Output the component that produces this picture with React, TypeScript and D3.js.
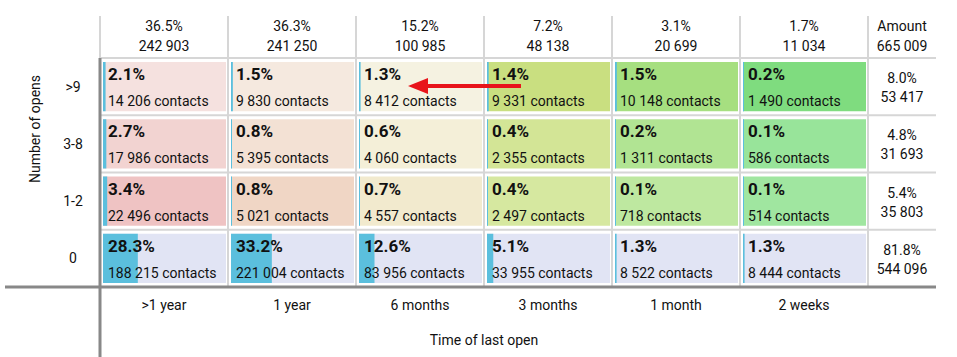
import React from "react";
import * as d3 from "d3";

const columns = [">1 year", "1 year", "6 months", "3 months", "1 month", "2 weeks"];
const rows = [">9", "3-8", "1-2", "0"];
const colPercents = ["36.5%", "36.3%", "15.2%", "7.2%", "3.1%", "1.7%"];
const colCounts = ["242 903", "241 250", "100 985", "48 138", "20 699", "11 034"];
const totalLabel = "Amount";
const totalCount = "665 009";
const rowPercents = ["8.0%", "4.8%", "5.4%", "81.8%"];
const rowCounts = ["53 417", "31 693", "35 803", "544 096"];
const cellPercents = [
  [2.1, 1.5, 1.3, 1.4, 1.5, 0.2],
  [2.7, 0.8, 0.6, 0.4, 0.2, 0.1],
  [3.4, 0.8, 0.7, 0.4, 0.1, 0.1],
  [28.3, 33.2, 12.6, 5.1, 1.3, 1.3],
];
const cellCounts = [
  ["14 206", "9 830", "8 412", "9 331", "10 148", "1 490"],
  ["17 986", "5 395", "4 060", "2 355", "1 311", "586"],
  ["22 496", "5 021", "4 557", "2 497", "718", "514"],
  ["188 215", "221 004", "83 956", "33 955", "8 522", "8 444"],
];
const cellColors = [
  ["#f5e1df", "#f5e9df", "#f5f2e1", "#c9df80", "#a6df80", "#7fdc7f"],
  ["#f2d3d1", "#f3e1d4", "#f4efd8", "#d3e596", "#b1e493", "#98e49a"],
  ["#efc3c3", "#f0d6c5", "#f2eace", "#d6e8a0", "#bee8a0", "#a0e6a0"],
  ["#e1e4f4", "#e1e4f4", "#e1e4f4", "#e1e4f4", "#e1e4f4", "#e1e4f4"],
];
const xTitle = "Time of last open";
const yTitle = "Number of opens";

export default function App() {
  const W = 957, H = 357;
  const font = "Roboto, 'Noto Sans', sans-serif";
  const x = d3.scaleBand<string>().domain(columns).range([100, 868]).padding(0);
  const y = d3.scaleBand<string>().domain(rows).range([58, 287]).padding(0);
  const bw = x.bandwidth();
  const bh = y.bandwidth();
  const totalX0 = 868, totalX1 = 936;
  const grid = "#d6d6d6";
  const axis = "#888";
  const cellW = bw - 5;
  const pctScale = d3.scaleLinear().domain([0, 100]).range([0, cellW]);

  // arrow from cell (>9, 3 months) to (>9, 6 months)
  const ay = (y(">9") as number) + 28;
  const ax1 = (x("3 months") as number) + 37;
  const ax2 = (x("6 months") as number) + 52;

  return (
    <svg width={W} height={H} style={{ position: "absolute", left: 0, top: 0, fontFamily: font }}>
      <rect width={W} height={H} fill="#fff" />
      {/* grid lines */}
      {columns.map((c) => (
        <line key={"v" + c} x1={(x(c) as number) + bw} x2={(x(c) as number) + bw} y1={16} y2={287} stroke={grid} strokeWidth={2} />
      ))}
      <line x1={100} x2={100} y1={16} y2={58} stroke={grid} strokeWidth={2} />
      {rows.map((r, i) =>
        i === 0 ? null : (
          <line key={"h" + r} x1={100} x2={totalX1} y1={y(r) as number} y2={y(r) as number} stroke={grid} strokeWidth={2} />
        )
      )}
      <line x1={100} x2={totalX1} y1={58} y2={58} stroke={grid} strokeWidth={2} />

      {/* header */}
      {columns.map((c, i) => (
        <g key={"hd" + c} fontSize={14} fill="#111" textAnchor="middle">
          <text x={(x(c) as number) + bw / 2} y={31}>{colPercents[i]}</text>
          <text x={(x(c) as number) + bw / 2} y={51}>{colCounts[i]}</text>
        </g>
      ))}
      <g fontSize={14} fill="#111" textAnchor="middle">
        <text x={(totalX0 + totalX1) / 2} y={31}>{totalLabel}</text>
        <text x={(totalX0 + totalX1) / 2} y={51}>{totalCount}</text>
      </g>

      {/* cells */}
      {rows.map((r, ri) =>
        columns.map((c, ci) => {
          const cx = (x(c) as number) + 3;
          const cy = (y(r) as number) + 4;
          const ch = bh - 8;
          return (
            <g key={r + c}>
              <rect x={cx} y={cy} width={cellW} height={ch} fill={cellColors[ri][ci]} />
              <rect x={cx} y={cy} width={Math.max(pctScale(cellPercents[ri][ci]), 1)} height={ch} fill="#5bbfdd" />
              <text x={cx + 5} y={(y(r) as number) + 22} fontSize={17} fontWeight="bold" fill="#111">
                {cellPercents[ri][ci].toFixed(1) + "%"}
              </text>
              <text x={cx + 5} y={(y(r) as number) + 48} fontSize={14} fill="#111">
                {cellCounts[ri][ci] + " contacts"}
              </text>
            </g>
          );
        })
      )}

      {/* row totals */}
      {rows.map((r, i) => (
        <g key={"rt" + r} fontSize={14} fill="#111" textAnchor="middle">
          <text x={(totalX0 + totalX1) / 2} y={(y(r) as number) + 25}>{rowPercents[i]}</text>
          <text x={(totalX0 + totalX1) / 2} y={(y(r) as number) + 44}>{rowCounts[i]}</text>
        </g>
      ))}

      {/* row labels */}
      {rows.map((r) => (
        <text key={"rl" + r} x={73} y={(y(r) as number) + bh / 2 + 5} fontSize={14} fill="#111" textAnchor="middle">{r}</text>
      ))}
      <text transform={`translate(40,129) rotate(-90)`} fontSize={14} fill="#111" textAnchor="middle">{yTitle}</text>

      {/* column labels */}
      {columns.map((c) => (
        <text key={"cl" + c} x={(x(c) as number) + bw / 2} y={310} fontSize={14} fill="#111" textAnchor="middle">{c}</text>
      ))}
      <text x={(100 + 868) / 2} y={345} fontSize={14} fill="#111" textAnchor="middle">{xTitle}</text>

      {/* axes */}
      <line x1={100} x2={100} y1={58} y2={H} stroke={axis} strokeWidth={3} />
      <line x1={5} x2={totalX1} y1={287} y2={287} stroke={axis} strokeWidth={3} />

      {/* arrow */}
      <line x1={ax1} x2={ax2 + 16} y1={ay} y2={ay} stroke="#e8141b" strokeWidth={4} />
      <path d={`M${ax2},${ay} L${ax2 + 20},${ay - 8} L${ax2 + 20},${ay + 8} Z`} fill="#e8141b" />
    </svg>
  );
}
